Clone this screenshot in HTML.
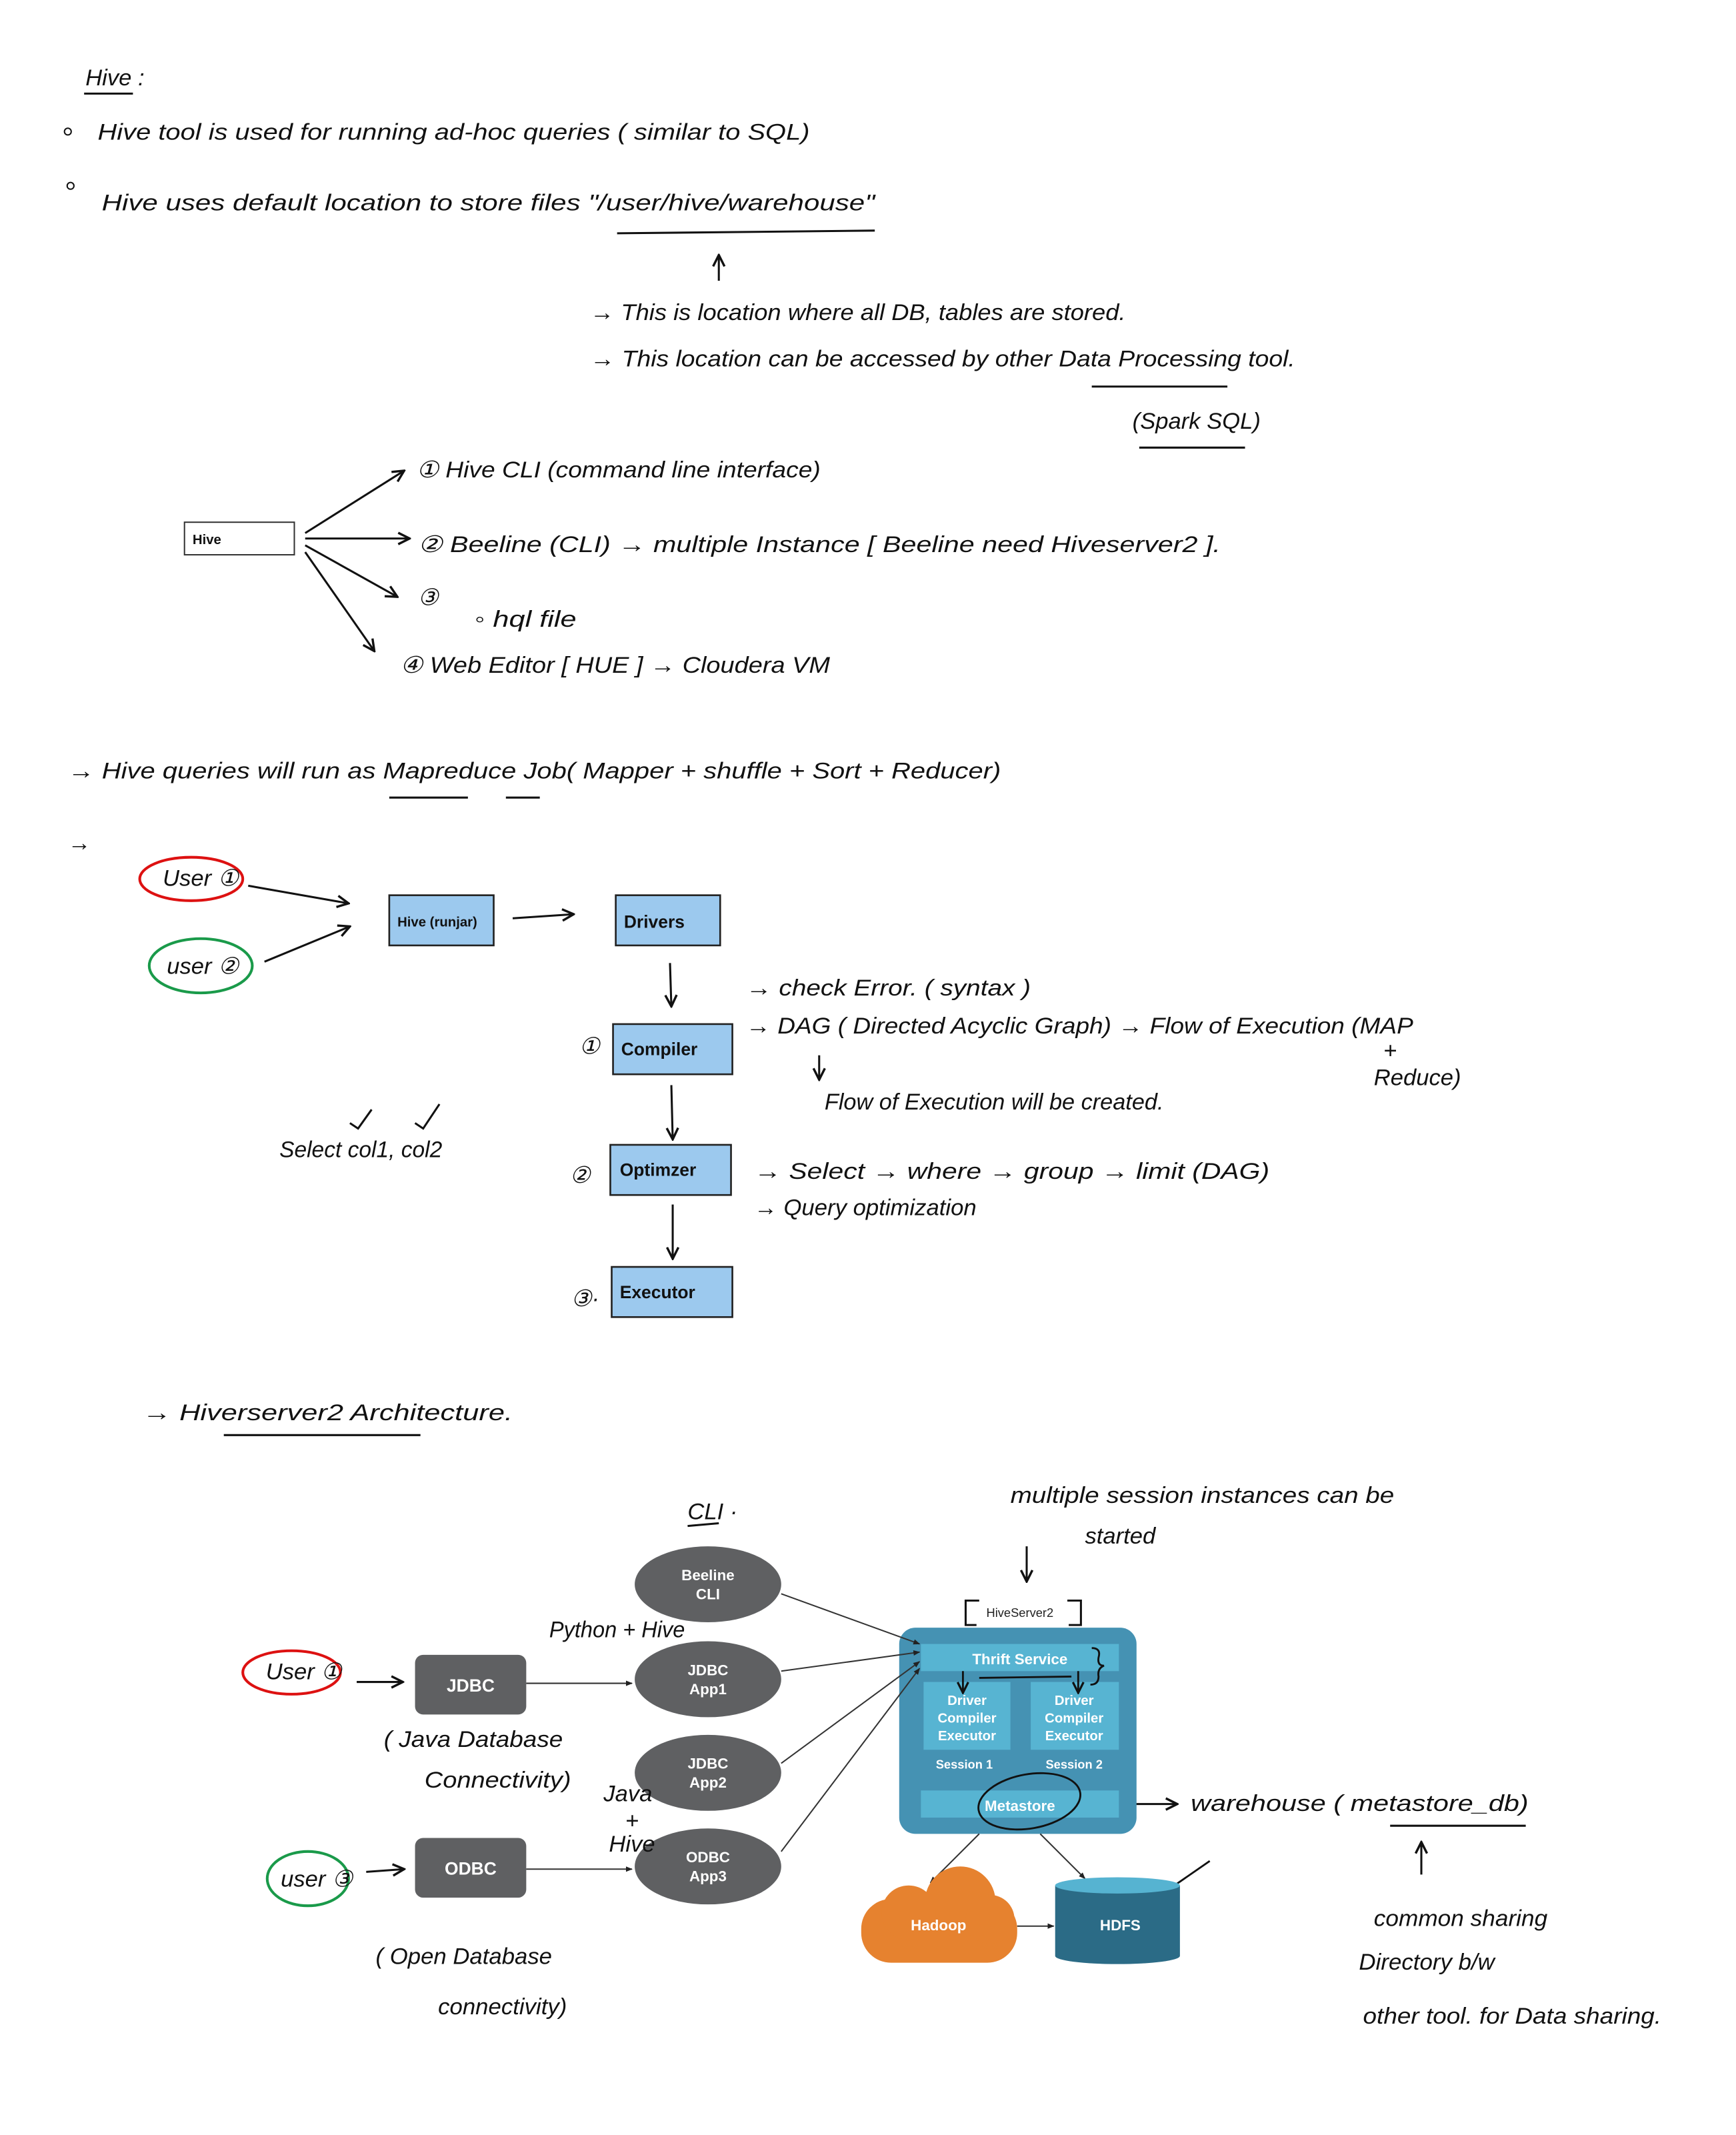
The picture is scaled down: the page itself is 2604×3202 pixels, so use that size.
<!DOCTYPE html>
<html><head><meta charset="utf-8"><style>
html,body{margin:0;padding:0;background:#fff;}
svg{display:block;}
.h{font-family:"Liberation Sans",sans-serif;font-size:17px;fill:#111;font-style:italic;}
.b{font-family:"Liberation Sans",sans-serif;font-weight:bold;fill:#111;}
.w{font-family:"Liberation Sans",sans-serif;font-weight:bold;fill:#fff;text-anchor:middle;}
</style></head><body>
<svg width="2604" height="3202" viewBox="0 0 1280 1574" xmlns="http://www.w3.org/2000/svg">
<defs>
<marker id="a" viewBox="0 0 10 10" refX="9" refY="5" markerWidth="7" markerHeight="7" orient="auto"><path d="M1,1 L9,5 L1,9" fill="none" stroke="#111" stroke-width="1.6"/></marker>
<marker id="f" viewBox="0 0 10 10" refX="9" refY="5" markerWidth="5" markerHeight="5" orient="auto"><path d="M0,1 L10,5 L0,9 z" fill="#222"/></marker>
</defs>
<rect width="1280" height="1574" fill="#fff"/>
<g stroke="#111" stroke-width="1.5" fill="none">
<line x1="62" y1="69" x2="98" y2="69"/>
<line x1="455" y1="172" x2="645" y2="170"/>
<line x1="530" y1="207" x2="530" y2="188" marker-end="url(#a)"/>
<line x1="805" y1="285" x2="905" y2="285"/>
<line x1="840" y1="330" x2="918" y2="330"/>
<line x1="225" y1="393" x2="298" y2="347" marker-end="url(#a)"/>
<line x1="225" y1="397" x2="302" y2="397" marker-end="url(#a)"/>
<line x1="225" y1="402" x2="293" y2="440" marker-end="url(#a)"/>
<line x1="225" y1="407" x2="276" y2="480" marker-end="url(#a)"/>
<line x1="287" y1="588" x2="345" y2="588"/>
<line x1="373" y1="588" x2="398" y2="588"/>
<ellipse cx="141" cy="648" rx="38" ry="16" stroke="#d11" stroke-width="2"/>
<ellipse cx="148" cy="712" rx="38" ry="20" stroke="#1a9a4a" stroke-width="2"/>
<line x1="183" y1="653" x2="257" y2="666" marker-end="url(#a)"/>
<line x1="195" y1="709" x2="258" y2="683" marker-end="url(#a)"/>
<line x1="378" y1="677" x2="423" y2="674" marker-end="url(#a)"/>
<line x1="494" y1="710" x2="495" y2="742" marker-end="url(#a)"/>
<line x1="495" y1="800" x2="496" y2="840" marker-end="url(#a)"/>
<line x1="496" y1="888" x2="496" y2="928" marker-end="url(#a)"/>
<line x1="604" y1="778" x2="604" y2="796" marker-end="url(#a)"/>
<path d="M258 828 L264 832 L274 818 M306 828 L312 832 L324 814"/>
<line x1="165" y1="1058" x2="310" y2="1058"/>
<line x1="507" y1="1125" x2="530" y2="1123"/>
<line x1="757" y1="1140" x2="757" y2="1166" marker-end="url(#a)"/>
<path d="M720 1198 L712 1198 L712 1180 L722 1180 M787 1180 L797 1180 L797 1198 L788 1198"/>
<ellipse cx="215" cy="1233" rx="36" ry="16" stroke="#d11" stroke-width="2"/>
<ellipse cx="227" cy="1385" rx="30" ry="20" stroke="#1a9a4a" stroke-width="2"/>
<line x1="263" y1="1240" x2="297" y2="1240" marker-end="url(#a)"/>
<line x1="270" y1="1380" x2="298" y2="1378" marker-end="url(#a)"/>
<line x1="818" y1="1330" x2="868" y2="1330" marker-end="url(#a)"/>
<line x1="1025" y1="1346" x2="1125" y2="1346"/>
<line x1="1048" y1="1382" x2="1048" y2="1358" marker-end="url(#a)"/>
</g>
<text class="h" x="63" y="63" font-size="16">Hive :</text>
<circle cx="50" cy="97" r="2.5" fill="none" stroke="#111"/>
<text class="h" x="72" y="103" textLength="525" lengthAdjust="spacingAndGlyphs">Hive tool is used for running ad-hoc queries ( similar to SQL)</text>
<circle cx="52" cy="137" r="2.5" fill="none" stroke="#111"/>
<text class="h" x="75" y="155" textLength="570" lengthAdjust="spacingAndGlyphs">Hive uses default location to store files "/user/hive/warehouse"</text>
<text class="h" x="435" y="236" textLength="395" lengthAdjust="spacingAndGlyphs">→ This is location where all DB, tables are stored.</text>
<text class="h" x="435" y="270" textLength="520" lengthAdjust="spacingAndGlyphs">→ This location can be accessed by other Data Processing tool.</text>
<text class="h" x="835" y="316">(Spark SQL)</text>
<rect x="136" y="385" width="81" height="24" fill="#fff" stroke="#333"/>
<text class="b" x="142" y="401" font-size="10" font-weight="normal">Hive</text>
<text class="h" x="307" y="352" textLength="298" lengthAdjust="spacingAndGlyphs">① Hive CLI (command line interface)</text>
<text class="h" x="308" y="407" textLength="592" lengthAdjust="spacingAndGlyphs">② Beeline (CLI) → multiple Instance [ Beeline need Hiveserver2 ].</text>
<text class="h" x="308" y="446">③</text>
<text class="h" x="350" y="462" textLength="75" lengthAdjust="spacingAndGlyphs">◦ hql file</text>
<text class="h" x="295" y="496" textLength="317" lengthAdjust="spacingAndGlyphs">④ Web Editor [ HUE ] → Cloudera VM</text>
<text class="h" x="50" y="574" textLength="688" lengthAdjust="spacingAndGlyphs">→ Hive queries will run as Mapreduce Job( Mapper + shuffle + Sort + Reducer)</text>
<text class="h" x="50" y="627">→</text>
<text class="h" x="120" y="653" fill="#d11" font-size="14">User ①</text>
<text class="h" x="123" y="718" fill="#1a9a4a" font-size="14">user ②</text>
<g stroke="#222" stroke-width="1.3" fill="#9cc9ee">
<rect x="287" y="660" width="77" height="37"/>
<rect x="454" y="660" width="77" height="37"/>
<rect x="452" y="755" width="88" height="37"/>
<rect x="450" y="844" width="89" height="37"/>
<rect x="451" y="934" width="89" height="37"/>
</g>
<text class="b" x="293" y="683" font-size="10">Hive (runjar)</text>
<text class="b" x="460" y="684" font-size="13">Drivers</text>
<text class="b" x="458" y="778" font-size="13">Compiler</text>
<text class="b" x="457" y="867" font-size="13">Optimzer</text>
<text class="b" x="457" y="957" font-size="13">Executor</text>
<text class="h" x="427" y="777">①</text>
<text class="h" x="420" y="872">②</text>
<text class="h" x="421" y="963">③·</text>
<text class="h" x="550" y="734" textLength="210" lengthAdjust="spacingAndGlyphs">→ check Error. ( syntax )</text>
<text class="h" x="550" y="762" textLength="492" lengthAdjust="spacingAndGlyphs">→ DAG ( Directed Acyclic Graph) → Flow of Execution (MAP</text>
<text class="h" x="1020" y="780" font-size="13">+</text>
<text class="h" x="1013" y="800">Reduce)</text>
<text class="h" x="608" y="818" textLength="250" lengthAdjust="spacingAndGlyphs">Flow of Execution will be created.</text>
<text class="h" x="206" y="853" textLength="120" lengthAdjust="spacingAndGlyphs">Select col1, col2</text>
<text class="h" x="556" y="869" textLength="380" lengthAdjust="spacingAndGlyphs">→ Select → where → group → limit (DAG)</text>
<text class="h" x="556" y="896" textLength="164" lengthAdjust="spacingAndGlyphs">→ Query optimization</text>
<text class="h" x="105" y="1047" textLength="273" lengthAdjust="spacingAndGlyphs">→ Hiverserver2 Architecture.</text>
<text class="h" x="507" y="1120">CLI  ·</text>
<text class="h" x="745" y="1108" textLength="283" lengthAdjust="spacingAndGlyphs">multiple session instances can be</text>
<text class="h" x="800" y="1138">started</text>
<text x="752" y="1192" font-family="Liberation Sans,sans-serif" font-size="9" text-anchor="middle" fill="#222">HiveServer2</text>
<rect x="663" y="1200" width="175" height="152" rx="12" fill="#4592b3"/>
<rect x="679" y="1212" width="146" height="20" fill="#57b4d2"/>
<rect x="681" y="1240" width="64" height="50" fill="#57b4d2"/>
<rect x="760" y="1240" width="65" height="50" fill="#57b4d2"/>
<rect x="679" y="1320" width="146" height="20" fill="#57b4d2"/>
<text class="w" x="752" y="1227" font-size="11">Thrift Service</text>
<text class="w" x="713" y="1257" font-size="10">Driver</text>
<text class="w" x="713" y="1270" font-size="10">Compiler</text>
<text class="w" x="713" y="1283" font-size="10">Executor</text>
<text class="w" x="792" y="1257" font-size="10">Driver</text>
<text class="w" x="792" y="1270" font-size="10">Compiler</text>
<text class="w" x="792" y="1283" font-size="10">Executor</text>
<text class="w" x="711" y="1304" font-size="9">Session 1</text>
<text class="w" x="792" y="1304" font-size="9">Session 2</text>
<text class="w" x="752" y="1335" font-size="11">Metastore</text>
<g stroke="#111" stroke-width="1.4" fill="none">
<ellipse cx="759" cy="1328" rx="38" ry="20" transform="rotate(-10 759 1328)"/>
<line x1="710" y1="1232" x2="710" y2="1248" marker-end="url(#a)"/>
<line x1="795" y1="1232" x2="795" y2="1248" marker-end="url(#a)"/>
<line x1="722" y1="1237" x2="790" y2="1236"/>
<path d="M805 1215 Q812 1215 810 1222 Q809 1228 814 1228 Q809 1230 810 1236 Q810 1242 804 1242"/>
<path d="M866 1390 L892 1372"/>
</g>
<g fill="#5f6062">
<ellipse cx="522" cy="1168" rx="54" ry="28"/>
<ellipse cx="522" cy="1238" rx="54" ry="28"/>
<ellipse cx="522" cy="1307" rx="54" ry="28"/>
<ellipse cx="522" cy="1376" rx="54" ry="28"/>
<rect x="306" y="1220" width="82" height="44" rx="6"/>
<rect x="306" y="1355" width="82" height="44" rx="6"/>
</g>
<text class="w" x="522" y="1165" font-size="11">Beeline</text><text class="w" x="522" y="1179" font-size="11">CLI</text>
<text class="w" x="522" y="1235" font-size="11">JDBC</text><text class="w" x="522" y="1249" font-size="11">App1</text>
<text class="w" x="522" y="1304" font-size="11">JDBC</text><text class="w" x="522" y="1318" font-size="11">App2</text>
<text class="w" x="522" y="1373" font-size="11">ODBC</text><text class="w" x="522" y="1387" font-size="11">App3</text>
<text class="w" x="347" y="1247" font-size="13" font-weight="normal">JDBC</text>
<text class="w" x="347" y="1382" font-size="13" font-weight="normal">ODBC</text>
<g stroke="#333" stroke-width="1" fill="none">
<line x1="388" y1="1241" x2="466" y2="1241" marker-end="url(#f)"/>
<line x1="388" y1="1378" x2="466" y2="1378" marker-end="url(#f)"/>
<line x1="576" y1="1175" x2="678" y2="1212" marker-end="url(#f)"/>
<line x1="576" y1="1232" x2="678" y2="1218" marker-end="url(#f)"/>
<line x1="576" y1="1300" x2="678" y2="1225" marker-end="url(#f)"/>
<line x1="576" y1="1365" x2="678" y2="1230" marker-end="url(#f)"/>
<line x1="722" y1="1352" x2="686" y2="1388" marker-end="url(#f)"/>
<line x1="767" y1="1352" x2="800" y2="1385" marker-end="url(#f)"/>
<line x1="750" y1="1420" x2="777" y2="1420" marker-end="url(#f)"/>
</g>
<g fill="#e6822f">
<rect x="635" y="1400" width="115" height="47" rx="22"/>
<circle cx="708" cy="1402" r="26"/>
<circle cx="670" cy="1410" r="20"/>
<circle cx="730" cy="1415" r="18"/>
</g>
<text class="w" x="692" y="1423" font-size="11">Hadoop</text>
<path d="M778 1390 L778 1442 A46 6 0 0 0 870 1442 L870 1390 Z" fill="#2b6b86"/>
<ellipse cx="824" cy="1390" rx="46" ry="6" fill="#56b3d1"/>
<text class="w" x="826" y="1423" font-size="11">HDFS</text>
<text class="h" x="196" y="1238" font-size="14">User ①</text>
<text class="h" x="207" y="1391" font-size="14">user ③</text>
<text class="h" x="405" y="1207" textLength="100" lengthAdjust="spacingAndGlyphs">Python + Hive</text>
<text class="h" x="445" y="1328" font-size="15">Java</text>
<text class="h" x="461" y="1348" font-size="13">+</text>
<text class="h" x="449" y="1365" font-size="15">Hive</text>
<text class="h" x="283" y="1288" textLength="132" lengthAdjust="spacingAndGlyphs">( Java Database</text>
<text class="h" x="313" y="1318" textLength="108" lengthAdjust="spacingAndGlyphs">Connectivity)</text>
<text class="h" x="277" y="1448" textLength="130" lengthAdjust="spacingAndGlyphs">( Open Database</text>
<text class="h" x="323" y="1485" textLength="95" lengthAdjust="spacingAndGlyphs">connectivity)</text>
<text class="h" x="878" y="1335" textLength="249" lengthAdjust="spacingAndGlyphs">warehouse ( metastore_db)</text>
<text class="h" x="1013" y="1420" textLength="128" lengthAdjust="spacingAndGlyphs">common sharing</text>
<text class="h" x="1002" y="1452" textLength="100" lengthAdjust="spacingAndGlyphs">Directory b/w</text>
<text class="h" x="1005" y="1492" textLength="220" lengthAdjust="spacingAndGlyphs">other tool. for Data sharing.</text>
</svg>
</body></html>
